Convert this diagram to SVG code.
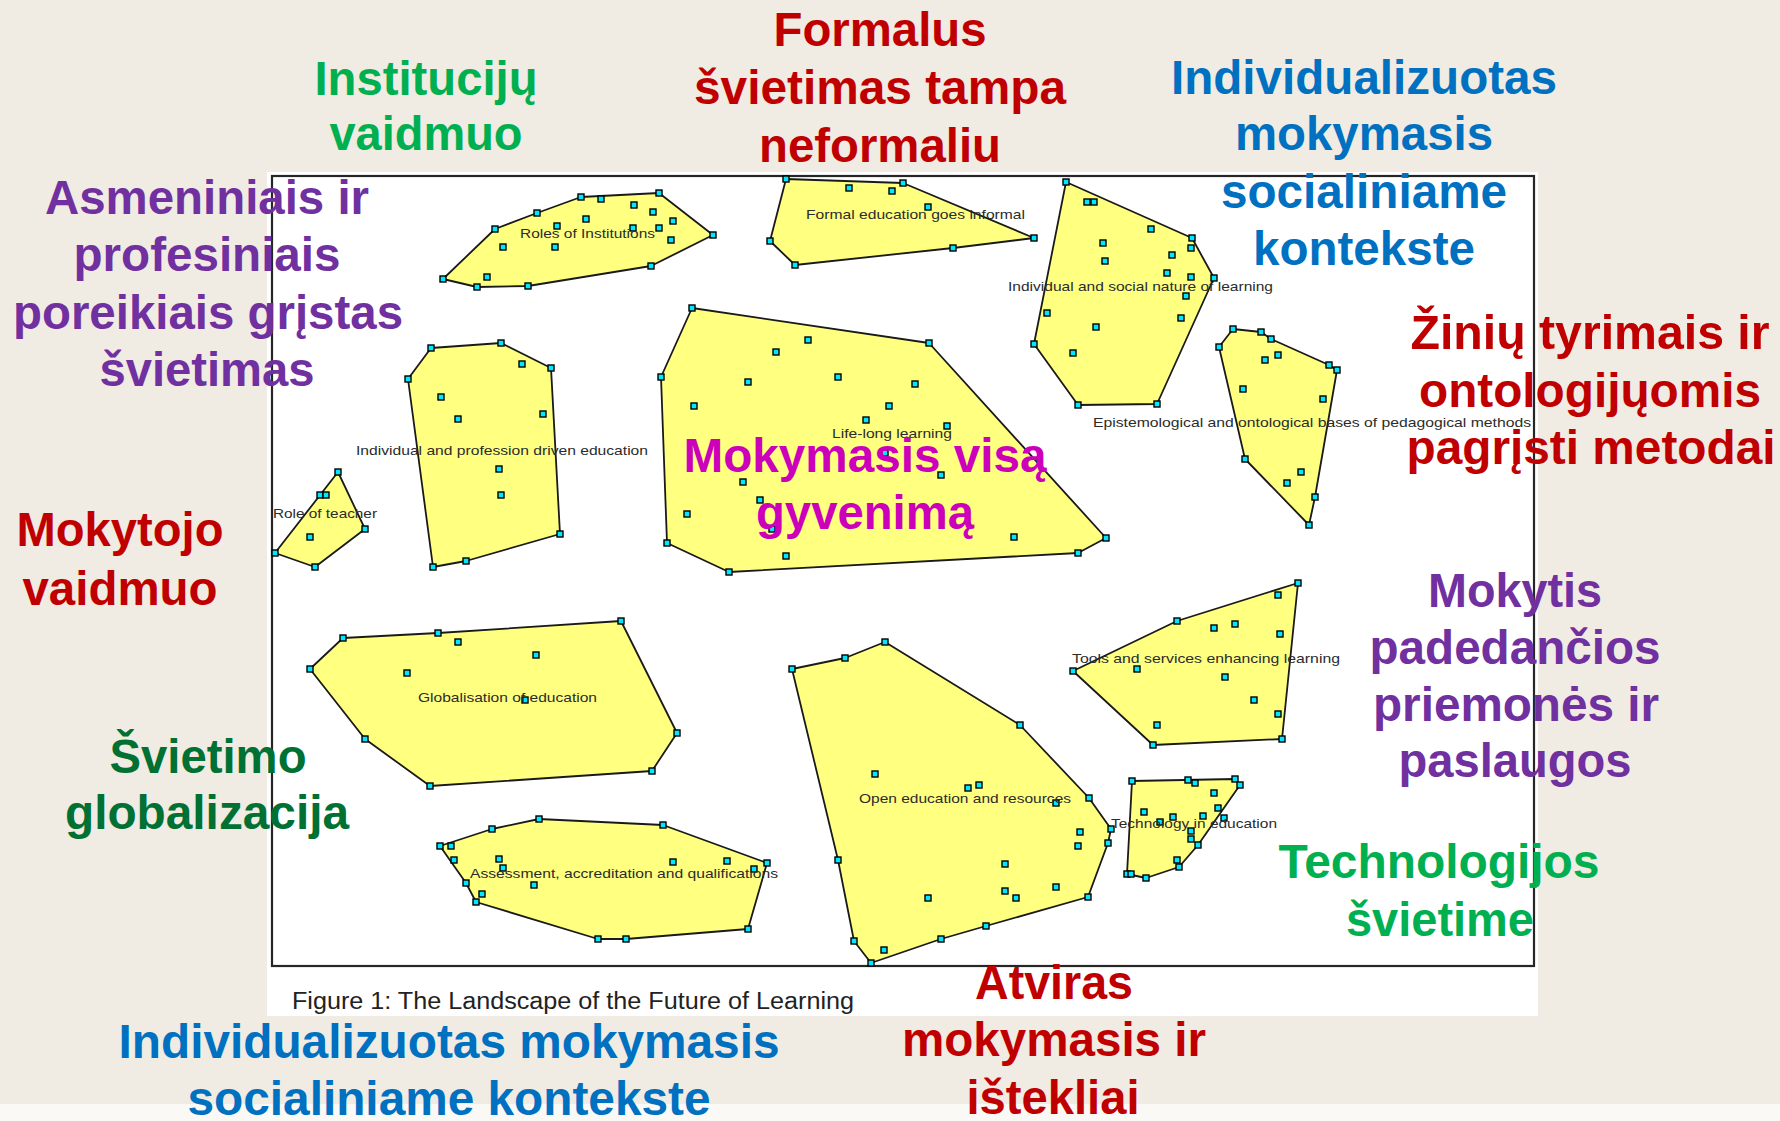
<svg xmlns="http://www.w3.org/2000/svg" width="1780" height="1121" viewBox="0 0 1780 1121">
<style>
.bg{fill:#f0ebe3}
.poly{fill:#ffff80;stroke:#1a1a1a;stroke-width:1.8;stroke-linejoin:round}
.lbl{font-family:"Liberation Sans",Arial,sans-serif;font-size:13.5px;fill:#2b2b2b}
.big{font-family:"Liberation Sans Narrow","Liberation Sans",Arial,sans-serif;font-weight:bold;font-size:48px;text-anchor:middle}
.red{fill:#c00000}.grn{fill:#00b050}.blu{fill:#0070c0}.pur{fill:#7030a0}.dgr{fill:#007033}.mag{fill:#cc00bb}
.cap{font-family:"Liberation Sans",Arial,sans-serif;font-size:23px;fill:#222}
</style>
<defs>
<rect id="m" x="-3" y="-3" width="6" height="6" fill="#00e8ff" stroke="#000" stroke-width="1.4"/>
</defs>
<rect class="bg" x="0" y="0" width="1780" height="1121"/>
<rect x="0" y="1104" width="1780" height="17" fill="#faf9f6"/>
<g id="figure">
<rect x="267" y="172" width="1271" height="844" fill="#ffffff"/>
<rect x="272" y="176" width="1262" height="790" fill="#ffffff" stroke="#262626" stroke-width="2.2"/>
<text class="cap" x="292" y="1009" textLength="562" lengthAdjust="spacingAndGlyphs">Figure 1: The Landscape of the Future of Learning</text>
</g>

<g id="roles-of-institutions">
<polygon class="poly" points="443,279 477,287 528,286 651,266 713,235 659,193 581,197 537,213 495,229"/>
<g>
<use href="#m" x="443" y="279"/><use href="#m" x="477" y="287"/><use href="#m" x="528" y="286"/><use href="#m" x="651" y="266"/><use href="#m" x="713" y="235"/><use href="#m" x="659" y="193"/><use href="#m" x="581" y="197"/><use href="#m" x="537" y="213"/><use href="#m" x="495" y="229"/>
<use href="#m" x="601" y="199"/><use href="#m" x="634" y="205"/><use href="#m" x="653" y="212"/><use href="#m" x="673" y="221"/><use href="#m" x="586" y="219"/><use href="#m" x="557" y="226"/><use href="#m" x="633" y="228"/><use href="#m" x="659" y="228"/><use href="#m" x="671" y="240"/><use href="#m" x="503" y="247"/><use href="#m" x="555" y="247"/><use href="#m" x="487" y="277"/>
</g>
<text class="lbl" x="520" y="238" textLength="135" lengthAdjust="spacingAndGlyphs">Roles of Institutions</text>
</g>

<g id="formal-education">
<polygon class="poly" points="786,179 903,183 1034,238 953,248 795,265 770,241"/>
<g>
<use href="#m" x="786" y="179"/><use href="#m" x="903" y="183"/><use href="#m" x="1034" y="238"/><use href="#m" x="953" y="248"/><use href="#m" x="795" y="265"/><use href="#m" x="770" y="241"/>
<use href="#m" x="849" y="188"/><use href="#m" x="892" y="191"/><use href="#m" x="928" y="207"/>
</g>
<text class="lbl" x="806" y="219" textLength="219" lengthAdjust="spacingAndGlyphs">Formal education goes informal</text>
</g>

<g id="individual-social">
<polygon class="poly" points="1066,182 1192,238 1214,278 1157,404 1078,405 1034,344"/>
<g>
<use href="#m" x="1066" y="182"/><use href="#m" x="1192" y="238"/><use href="#m" x="1214" y="278"/><use href="#m" x="1157" y="404"/><use href="#m" x="1078" y="405"/><use href="#m" x="1034" y="344"/>
<use href="#m" x="1087" y="202"/><use href="#m" x="1094" y="202"/><use href="#m" x="1103" y="243"/><use href="#m" x="1105" y="261"/><use href="#m" x="1047" y="313"/><use href="#m" x="1096" y="327"/><use href="#m" x="1073" y="353"/><use href="#m" x="1151" y="229"/><use href="#m" x="1172" y="255"/><use href="#m" x="1167" y="273"/><use href="#m" x="1191" y="277"/><use href="#m" x="1186" y="296"/><use href="#m" x="1181" y="318"/><use href="#m" x="1191" y="248"/>
</g>
<text class="lbl" x="1008" y="291" textLength="265" lengthAdjust="spacingAndGlyphs">Individual and social nature of learning</text>
</g>

<g id="epistemological">
<polygon class="poly" points="1233,329 1261,332 1271,339 1329,365 1337,370 1315,497 1309,525 1245,459 1219,347"/>
<g>
<use href="#m" x="1233" y="329"/><use href="#m" x="1261" y="332"/><use href="#m" x="1271" y="339"/><use href="#m" x="1329" y="365"/><use href="#m" x="1337" y="370"/><use href="#m" x="1315" y="497"/><use href="#m" x="1309" y="525"/><use href="#m" x="1245" y="459"/><use href="#m" x="1219" y="347"/>
<use href="#m" x="1265" y="360"/><use href="#m" x="1278" y="355"/><use href="#m" x="1243" y="389"/><use href="#m" x="1323" y="399"/><use href="#m" x="1301" y="472"/><use href="#m" x="1287" y="483"/>
</g>
<text class="lbl" x="1093" y="427" textLength="438" lengthAdjust="spacingAndGlyphs">Epistemological and ontological bases of pedagogical methods</text>
</g>

<g id="individual-profession">
<polygon class="poly" points="431,348 501,343 551,368 560,534 466,561 433,567 408,379"/>
<g>
<use href="#m" x="431" y="348"/><use href="#m" x="501" y="343"/><use href="#m" x="551" y="368"/><use href="#m" x="560" y="534"/><use href="#m" x="466" y="561"/><use href="#m" x="433" y="567"/><use href="#m" x="408" y="379"/>
<use href="#m" x="522" y="364"/><use href="#m" x="441" y="397"/><use href="#m" x="458" y="419"/><use href="#m" x="543" y="414"/><use href="#m" x="499" y="469"/><use href="#m" x="501" y="495"/>
</g>
<text class="lbl" x="356" y="455" textLength="292" lengthAdjust="spacingAndGlyphs">Individual and profession driven education</text>
</g>

<g id="role-of-teacher">
<polygon class="poly" points="338,472 365,529 315,567 275,553"/>
<g>
<use href="#m" x="338" y="472"/><use href="#m" x="365" y="529"/><use href="#m" x="315" y="567"/><use href="#m" x="275" y="553"/>
<use href="#m" x="320" y="495"/><use href="#m" x="326" y="495"/><use href="#m" x="310" y="537"/>
</g>
<text class="lbl" x="273" y="518" textLength="104" lengthAdjust="spacingAndGlyphs">Role of teacher</text>
</g>

<g id="life-long-learning">
<polygon class="poly" points="692,308 929,343 1106,538 1078,553 729,572 667,543 661,377"/>
<g>
<use href="#m" x="692" y="308"/><use href="#m" x="929" y="343"/><use href="#m" x="1106" y="538"/><use href="#m" x="1078" y="553"/><use href="#m" x="729" y="572"/><use href="#m" x="667" y="543"/><use href="#m" x="661" y="377"/>
<use href="#m" x="694" y="406"/><use href="#m" x="687" y="514"/><use href="#m" x="808" y="340"/><use href="#m" x="776" y="352"/><use href="#m" x="748" y="382"/><use href="#m" x="838" y="377"/><use href="#m" x="915" y="384"/><use href="#m" x="889" y="406"/><use href="#m" x="866" y="420"/><use href="#m" x="947" y="426"/><use href="#m" x="885" y="453"/><use href="#m" x="941" y="475"/><use href="#m" x="743" y="482"/><use href="#m" x="760" y="500"/><use href="#m" x="772" y="529"/><use href="#m" x="786" y="556"/><use href="#m" x="1014" y="537"/>
</g>
<text class="lbl" x="832" y="438" textLength="120" lengthAdjust="spacingAndGlyphs">Life-long learning</text>
</g>

<g id="globalisation">
<polygon class="poly" points="343,638 438,633 621,621 677,733 652,771 430,786 365,739 310,669"/>
<g>
<use href="#m" x="343" y="638"/><use href="#m" x="438" y="633"/><use href="#m" x="621" y="621"/><use href="#m" x="677" y="733"/><use href="#m" x="652" y="771"/><use href="#m" x="430" y="786"/><use href="#m" x="365" y="739"/><use href="#m" x="310" y="669"/>
<use href="#m" x="458" y="642"/><use href="#m" x="536" y="655"/><use href="#m" x="407" y="673"/><use href="#m" x="525" y="700"/>
</g>
<text class="lbl" x="418" y="702" textLength="179" lengthAdjust="spacingAndGlyphs">Globalisation of education</text>
</g>

<g id="assessment">
<polygon class="poly" points="440,846 492,829 539,819 663,825 767,863 748,929 626,939 598,939 476,902 466,883"/>
<g>
<use href="#m" x="440" y="846"/><use href="#m" x="492" y="829"/><use href="#m" x="539" y="819"/><use href="#m" x="663" y="825"/><use href="#m" x="767" y="863"/><use href="#m" x="748" y="929"/><use href="#m" x="626" y="939"/><use href="#m" x="598" y="939"/><use href="#m" x="476" y="902"/><use href="#m" x="466" y="883"/>
<use href="#m" x="451" y="846"/><use href="#m" x="454" y="860"/><use href="#m" x="499" y="859"/><use href="#m" x="503" y="868"/><use href="#m" x="534" y="885"/><use href="#m" x="673" y="862"/><use href="#m" x="482" y="894"/><use href="#m" x="727" y="861"/><use href="#m" x="754" y="869"/>
</g>
<text class="lbl" x="470" y="878" textLength="308" lengthAdjust="spacingAndGlyphs">Assessment, accreditation and qualifications</text>
</g>

<g id="open-education">
<polygon class="poly" points="792,669 845,658 885,642 1020,725 1089,798 1111,829 1108,843 1088,897 986,926 941,939 871,963 854,941 838,860"/>
<g>
<use href="#m" x="792" y="669"/><use href="#m" x="845" y="658"/><use href="#m" x="885" y="642"/><use href="#m" x="1020" y="725"/><use href="#m" x="1089" y="798"/><use href="#m" x="1111" y="829"/><use href="#m" x="1108" y="843"/><use href="#m" x="1088" y="897"/><use href="#m" x="986" y="926"/><use href="#m" x="941" y="939"/><use href="#m" x="871" y="963"/><use href="#m" x="854" y="941"/><use href="#m" x="838" y="860"/>
<use href="#m" x="875" y="774"/><use href="#m" x="968" y="788"/><use href="#m" x="979" y="785"/><use href="#m" x="1056" y="803"/><use href="#m" x="1080" y="832"/><use href="#m" x="1078" y="846"/><use href="#m" x="1005" y="864"/><use href="#m" x="1005" y="891"/><use href="#m" x="1016" y="898"/><use href="#m" x="1056" y="887"/><use href="#m" x="928" y="898"/><use href="#m" x="884" y="950"/>
</g>
<text class="lbl" x="859" y="803" textLength="212" lengthAdjust="spacingAndGlyphs">Open education and resources</text>
</g>

<g id="tools-services">
<polygon class="poly" points="1298,583 1282,739 1153,745 1073,671 1177,621"/>
<g>
<use href="#m" x="1298" y="583"/><use href="#m" x="1282" y="739"/><use href="#m" x="1153" y="745"/><use href="#m" x="1073" y="671"/><use href="#m" x="1177" y="621"/>
<use href="#m" x="1278" y="595"/><use href="#m" x="1214" y="628"/><use href="#m" x="1235" y="624"/><use href="#m" x="1280" y="634"/><use href="#m" x="1137" y="669"/><use href="#m" x="1225" y="677"/><use href="#m" x="1254" y="700"/><use href="#m" x="1278" y="714"/><use href="#m" x="1157" y="725"/>
</g>
<text class="lbl" x="1072" y="663" textLength="268" lengthAdjust="spacingAndGlyphs">Tools and services enhancing learning</text>
</g>

<g id="technology-in-education">
<polygon class="poly" points="1132,781 1235,779 1240,785 1198,845 1179,867 1146,878 1127,874"/>
<g>
<use href="#m" x="1132" y="781"/><use href="#m" x="1235" y="779"/><use href="#m" x="1240" y="785"/><use href="#m" x="1198" y="845"/><use href="#m" x="1179" y="867"/><use href="#m" x="1146" y="878"/><use href="#m" x="1127" y="874"/>
<use href="#m" x="1188" y="780"/><use href="#m" x="1195" y="783"/><use href="#m" x="1131" y="874"/><use href="#m" x="1177" y="860"/><use href="#m" x="1214" y="793"/><use href="#m" x="1218" y="808"/><use href="#m" x="1144" y="812"/><use href="#m" x="1160" y="822"/><use href="#m" x="1173" y="817"/><use href="#m" x="1203" y="816"/><use href="#m" x="1224" y="818"/><use href="#m" x="1191" y="831"/><use href="#m" x="1191" y="839"/>
</g>
<text class="lbl" x="1111" y="828" textLength="166" lengthAdjust="spacingAndGlyphs">Technology in education</text>
</g>

<g id="label-institucijos">
<text class="big grn" x="426" y="95" textLength="223" lengthAdjust="spacingAndGlyphs">Institucijų</text>
<text class="big grn" x="426" y="150" textLength="193" lengthAdjust="spacingAndGlyphs">vaidmuo</text>
</g>
<g id="label-formalus">
<text class="big red" x="880" y="46" textLength="213" lengthAdjust="spacingAndGlyphs">Formalus</text>
<text class="big red" x="880" y="104" textLength="372" lengthAdjust="spacingAndGlyphs">švietimas tampa</text>
<text class="big red" x="880" y="162" textLength="242" lengthAdjust="spacingAndGlyphs">neformaliu</text>
</g>
<g id="label-individualizuotas-top">
<text class="big blu" x="1364" y="94" textLength="386" lengthAdjust="spacingAndGlyphs">Individualizuotas</text>
<text class="big blu" x="1364" y="150" textLength="258" lengthAdjust="spacingAndGlyphs">mokymasis</text>
<text class="big blu" x="1364" y="208" textLength="286" lengthAdjust="spacingAndGlyphs">socialiniame</text>
<text class="big blu" x="1364" y="265" textLength="222" lengthAdjust="spacingAndGlyphs">kontekste</text>
</g>
<g id="label-asmeniniais">
<text class="big pur" x="207" y="214" textLength="324" lengthAdjust="spacingAndGlyphs">Asmeniniais ir</text>
<text class="big pur" x="207" y="271" textLength="267" lengthAdjust="spacingAndGlyphs">profesiniais</text>
<text class="big pur" x="208" y="329" textLength="390" lengthAdjust="spacingAndGlyphs">poreikiais grįstas</text>
<text class="big pur" x="207" y="386" textLength="215" lengthAdjust="spacingAndGlyphs">švietimas</text>
</g>
<g id="label-zinių">
<text class="big red" x="1590" y="349" textLength="359" lengthAdjust="spacingAndGlyphs">Žinių tyrimais ir</text>
<text class="big red" x="1590" y="407" textLength="342" lengthAdjust="spacingAndGlyphs">ontologijųomis</text>
<text class="big red" x="1591" y="464" textLength="369" lengthAdjust="spacingAndGlyphs">pagrįsti metodai</text>
</g>
<g id="label-mokymasis-visa">
<text class="big mag" x="865" y="472" textLength="363" lengthAdjust="spacingAndGlyphs">Mokymasis visą</text>
<text class="big mag" x="865" y="529" textLength="218" lengthAdjust="spacingAndGlyphs">gyvenimą</text>
</g>
<g id="label-mokytojo">
<text class="big red" x="120" y="546" textLength="207" lengthAdjust="spacingAndGlyphs">Mokytojo</text>
<text class="big red" x="120" y="605" textLength="195" lengthAdjust="spacingAndGlyphs">vaidmuo</text>
</g>
<g id="label-mokytis">
<text class="big pur" x="1515" y="607" textLength="174" lengthAdjust="spacingAndGlyphs">Mokytis</text>
<text class="big pur" x="1515" y="664" textLength="291" lengthAdjust="spacingAndGlyphs">padedančios</text>
<text class="big pur" x="1516" y="721" textLength="286" lengthAdjust="spacingAndGlyphs">priemonės ir</text>
<text class="big pur" x="1515" y="777" textLength="233" lengthAdjust="spacingAndGlyphs">paslaugos</text>
</g>
<g id="label-svietimo">
<text class="big dgr" x="208" y="773" textLength="197" lengthAdjust="spacingAndGlyphs">Švietimo</text>
<text class="big dgr" x="207" y="829" textLength="284" lengthAdjust="spacingAndGlyphs">globalizacija</text>
</g>
<g id="label-technologijos">
<text class="big grn" x="1439" y="878" textLength="321" lengthAdjust="spacingAndGlyphs">Technologijos</text>
<text class="big grn" x="1440" y="936" textLength="188" lengthAdjust="spacingAndGlyphs">švietime</text>
</g>
<g id="label-atviras">
<text class="big red" x="1054" y="999" textLength="158" lengthAdjust="spacingAndGlyphs">Atviras</text>
<text class="big red" x="1054" y="1056" textLength="304" lengthAdjust="spacingAndGlyphs">mokymasis ir</text>
<text class="big red" x="1053" y="1114" textLength="173" lengthAdjust="spacingAndGlyphs">ištekliai</text>
</g>
<g id="label-individualizuotas-bottom">
<text class="big blu" x="449" y="1058" textLength="661" lengthAdjust="spacingAndGlyphs">Individualizuotas mokymasis</text>
<text class="big blu" x="449" y="1115" textLength="523" lengthAdjust="spacingAndGlyphs">socialiniame kontekste</text>
</g>
</svg>
